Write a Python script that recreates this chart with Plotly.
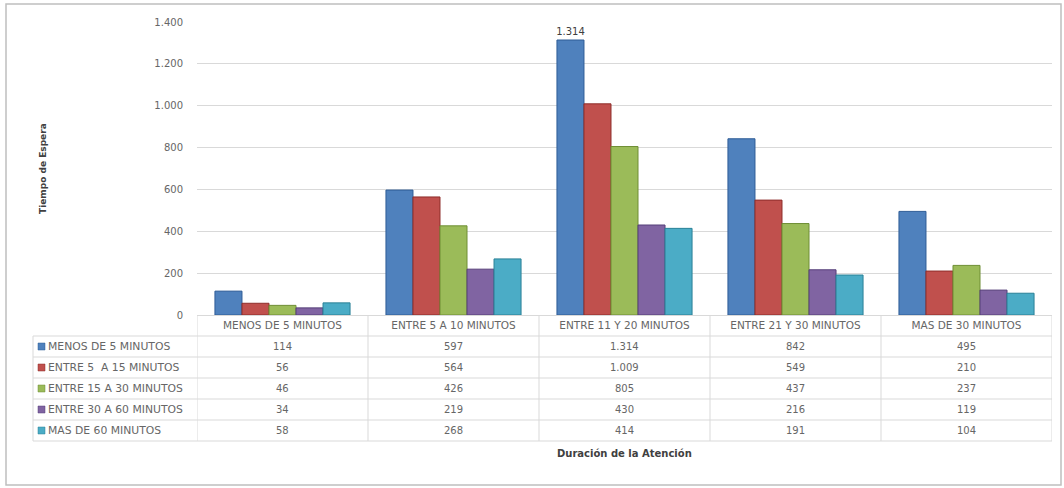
import plotly.graph_objects as go

# Waiting-time distribution by duration of attention
categories = ["MENOS DE 5 MINUTOS", "ENTRE 5 A 10 MINUTOS", "ENTRE 11 Y 20 MINUTOS",
              "ENTRE 21 Y 30 MINUTOS", "MAS DE 30 MINUTOS"]
series_names = ["MENOS DE 5 MINUTOS", "ENTRE 5  A 15 MINUTOS", "ENTRE 15 A 30 MINUTOS",
                "ENTRE 30 A 60 MINUTOS", "MAS DE 60 MINUTOS"]
menos_5 = [114, 597, 1314, 842, 495]
entre_5_15 = [56, 564, 1009, 549, 210]
entre_15_30 = [46, 426, 805, 437, 237]
entre_30_60 = [34, 219, 430, 216, 119]
mas_60 = [58, 268, 414, 191, 104]
series_values = [menos_5, entre_5_15, entre_15_30, entre_30_60, mas_60]
colors = ["#4F81BD", "#C0504D", "#9BBB59", "#8064A2", "#4BACC6"]
edge_colors = ["#2E5C96", "#8E2D2A", "#6E8E34", "#553F78", "#2A8197"]
y_ticks = [0, 200, 400, 600, 800, 1000, 1200, 1400]

W, H = 1064, 488
L, R, T, B = 197, 12, 22, 173
PW, PH = W - L - R, H - T - B
FONT = "DejaVu Sans, Open Sans, sans-serif"


def px_x(px):
    return (px - L) / PW


def px_y(py):
    return (H - B - py) / PH


def fmt(v):
    return f"{v:,}".replace(",", ".")


fig = go.Figure()
for i, (name, vals) in enumerate(zip(series_names, series_values)):
    labels = [fmt(v) if (i == 0 and v == max(menos_5)) else "" for v in vals]
    fig.add_bar(
        x=categories, y=vals, name=name,
        marker=dict(color=colors[i], line=dict(color=edge_colors[i], width=1)),
        text=labels, textposition="outside", cliponaxis=False, constraintext="none",
        textfont=dict(size=10, color="#404040"),
    )

grey = "#666666"
line_col = "#D9D9D9"
shapes = []
annotations = []

# outer chart frame
shapes.append(dict(type="rect", xref="paper", yref="paper",
                   x0=px_x(6), x1=px_x(1061), y0=px_y(485), y1=px_y(4),
                   line=dict(color="#BFBFBF", width=1.5)))

# data table grid
row_edges = [336, 357, 378, 399, 420, 441]
for ry in row_edges:
    shapes.append(dict(type="line", xref="paper", yref="paper",
                       x0=px_x(33), x1=1.0, y0=px_y(ry), y1=px_y(ry),
                       line=dict(color=line_col, width=1)))
shapes.append(dict(type="line", xref="paper", yref="paper",
                   x0=px_x(33), x1=px_x(33), y0=px_y(336), y1=px_y(441),
                   line=dict(color=line_col, width=1)))
for c in range(len(categories) + 1):
    shapes.append(dict(type="line", xref="x", yref="paper",
                       x0=c - 0.5, x1=c - 0.5, y0=0, y1=px_y(441),
                       line=dict(color=line_col, width=1)))

row_centers = [346.5, 367.5, 388.5, 409.5, 430.5]
for i, (name, vals) in enumerate(zip(series_names, series_values)):
    cy = row_centers[i]
    shapes.append(dict(type="rect", xref="paper", yref="paper",
                       x0=px_x(38), x1=px_x(45), y0=px_y(cy + 3.5), y1=px_y(cy - 3.5),
                       fillcolor=colors[i], line=dict(color=edge_colors[i], width=0.5)))
    annotations.append(dict(x=px_x(46), y=px_y(cy), xref="paper", yref="paper",
                            text=name, showarrow=False, xanchor="left", yanchor="middle",
                            font=dict(size=10.8, color=grey)))
    for c, v in enumerate(vals):
        annotations.append(dict(x=c, y=px_y(cy), xref="x", yref="paper",
                                text=fmt(v), showarrow=False, xanchor="center",
                                yanchor="middle", font=dict(size=10, color=grey)))

# axis titles
annotations.append(dict(x=px_x(36), y=px_y(169), xref="paper", yref="paper",
                        text="<b>Tiempo de Espera</b>", textangle=-90, showarrow=False,
                        font=dict(size=9, color="#404040")))
annotations.append(dict(x=px_x(624), y=px_y(461), xref="paper", yref="paper",
                        text="<b>Duración de la Atención</b>", showarrow=False,
                        font=dict(size=10, color="#404040")))

fig.update_layout(
    width=W, height=H,
    margin=dict(l=L, r=R, t=T, b=B),
    paper_bgcolor="white", plot_bgcolor="white",
    barmode="group", bargap=0.21, bargroupgap=0,
    showlegend=False,
    separators=",.",
    font=dict(family=FONT, color=grey),
    shapes=shapes, annotations=annotations,
    xaxis=dict(range=[-0.5, 4.5], showgrid=False, ticks="", showline=True,
               linecolor="#D9D9D9", tickfont=dict(size=10.5, color=grey)),
    yaxis=dict(range=[0, 1400], tickvals=y_ticks, tickformat=",d",
               showgrid=True, gridcolor="#D9D9D9", gridwidth=1, zeroline=False,
               ticks="", showline=False, ticklabelstandoff=13,
               tickfont=dict(size=10, color=grey)),
)

fig.write_html("out.html")
